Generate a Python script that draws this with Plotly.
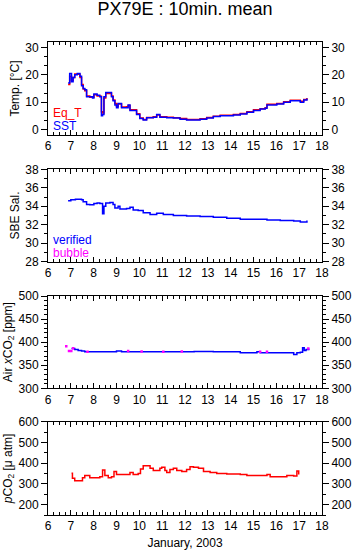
import plotly.graph_objects as go

# ---------------- data ----------------
temp_days = [6.88, 6.95, 7.03, 7.10, 7.17, 7.28, 7.40, 7.47, 7.54, 7.61, 7.69, 7.83, 7.95,
             8.01, 8.15, 8.27, 8.34, 8.39, 8.45, 8.53, 8.71, 8.78, 8.85, 8.93, 9.00, 9.07,
             9.22, 9.44, 9.51, 9.59, 9.80, 9.88, 10.02, 10.17, 10.32, 10.61, 10.76, 10.90,
             11.20, 11.49, 11.78, 12.07, 12.66, 12.95, 13.24, 13.54, 14.12, 14.42, 14.71,
             15.00, 15.29, 15.51, 15.59, 16.02, 16.32, 16.61, 17.05, 17.20, 17.34]
sst = [17.0, 20.5, 17.5, 19.0, 20.0, 20.5, 19.5, 16.0, 15.0, 14.5, 12.0, 12.0, 11.5,
       13.0, 12.5, 12.0, 5.0, 5.5, 12.0, 13.5, 13.5, 12.0, 10.5, 9.0, 8.0, 9.5,
       8.0, 8.0, 9.0, 7.0, 7.0, 5.5, 4.0, 3.5, 4.3, 4.5, 5.5, 4.5,
       4.3, 4.2, 3.8, 3.5, 3.8, 4.2, 4.8, 5.0, 5.3, 5.7, 6.3,
       7.0, 7.5, 7.8, 9.0, 9.3, 10.0, 10.5, 10.0, 10.8, 11.3]
eq_t = [16.5, 19.5, 18.0, 19.0, 20.3, 20.2, 19.0, 16.5, 14.8, 14.2, 12.3, 11.8, 11.8,
        12.7, 12.3, 12.2, 6.5, 6.0, 11.5, 13.2, 13.3, 12.3, 10.8, 9.5, 8.5, 9.3,
        8.2, 8.3, 8.8, 7.2, 7.2, 5.8, 4.2, 3.7, 4.4, 4.7, 5.3, 4.7,
        4.5, 4.3, 4.0, 3.7, 3.9, 4.4, 4.9, 5.2, 5.5, 5.9, 6.5,
        7.2, 7.6, 8.0, 9.2, 9.5, 10.2, 10.7, 10.3, 11.0, 11.5]

sal_days = [6.88, 7.00, 7.20, 7.47, 7.54, 7.69, 7.83, 8.01, 8.15, 8.27, 8.39, 8.45,
            8.53, 8.71, 8.85, 8.93, 9.07, 9.15, 9.44, 9.59, 9.73, 9.95, 10.17, 10.47,
            10.76, 11.05, 11.49, 12.07, 12.66, 13.24, 13.83, 14.42, 15.00, 15.59, 16.17,
            16.76, 17.05, 17.20, 17.34]
sal_verified = [34.6, 34.7, 34.75, 34.7, 34.5, 34.2, 34.15, 34.3, 34.35, 34.3, 33.2, 34.0,
                34.35, 34.4, 34.2, 33.8, 34.0, 33.7, 33.75, 33.9, 33.6, 33.55, 33.3, 33.1,
                33.25, 33.1, 33.0, 32.95, 32.9, 32.8, 32.7, 32.6, 32.6, 32.5, 32.45,
                32.4, 32.3, 32.3, 32.45]

air_days = [7.03, 7.17, 7.32, 7.47, 7.61, 7.83, 8.27, 8.85, 9.00, 9.22, 9.59, 10.17,
            11.20, 12.07, 12.40, 13.24, 14.12, 14.42, 15.00, 15.15, 15.29, 15.59, 16.02,
            16.61, 16.76, 16.90, 17.05, 17.15, 17.22, 17.30, 17.42]
air_verified = [386, 384, 382, 381, 379, 379, 379, 379, 381, 379, 379, 379,
                379, 379, 380, 379, 379, 377, 377, 379, 377, 377, 377,
                377, 373, 377, 378, 388, 382, 384, 386]
bubble_days = [6.80, 6.92, 7.02, 7.10, 7.73, 9.51, 10.10, 11.05, 11.86, 15.29, 15.59, 17.40]
air_bubble = [391, 381, 381, 387, 379, 381, 380, 379, 380, 379, 379, 386]

pco2_days = [7.03, 7.07, 7.17, 7.40, 7.51, 7.61, 7.83, 8.05, 8.27, 8.39, 8.49, 8.64,
             8.78, 8.89, 9.00, 9.15, 9.44, 9.59, 9.73, 9.95, 10.05, 10.17, 10.32, 10.47,
             10.61, 10.83, 10.90, 10.98, 11.12, 11.20, 11.34, 11.49, 11.64, 11.86, 12.07,
             12.22, 12.37, 12.59, 12.81, 13.10, 13.39, 13.83, 14.42, 14.71, 15.29, 15.59,
             15.73, 16.46, 16.76, 16.90, 16.98]
pco2 = [351, 327, 315, 315, 330, 340, 330, 330, 335, 367, 340, 330,
        335, 360, 345, 345, 345, 355, 345, 350, 372, 388, 388, 375,
        365, 365, 375, 380, 365, 355, 370, 375, 365, 360, 370,
        383, 380, 375, 360, 355, 350, 348, 345, 340, 340, 345,
        335, 340, 338, 362, 345]

x_ticks = list(range(6, 19))

FONT = "Liberation Sans, Arial, Helvetica, sans-serif"
RED, BLUE, MAG = "#ff0000", "#0000ff", "#ff00ff"
LW = 1.5

fig = go.Figure()

def xa(p):
    return "x" if p == 1 else f"x{p}"

def ya(p):
    return "y" if p == 1 else f"y{p}"

# temperature (top panel = index 4)
fig.add_trace(go.Scatter(x=temp_days, y=eq_t, mode="lines", line=dict(color=RED, width=LW, shape="hv"),
                         xaxis=xa(4), yaxis=ya(4), showlegend=False))
fig.add_trace(go.Scatter(x=temp_days, y=sst, mode="lines", line=dict(color=BLUE, width=LW, shape="hv"),
                         xaxis=xa(4), yaxis=ya(4), showlegend=False))
# salinity
fig.add_trace(go.Scatter(x=sal_days, y=sal_verified, mode="lines", line=dict(color=BLUE, width=LW, shape="hv"),
                         xaxis=xa(3), yaxis=ya(3), showlegend=False))
# air xCO2
fig.add_trace(go.Scatter(x=air_days, y=air_verified, mode="lines", line=dict(color=BLUE, width=LW, shape="hv"),
                         xaxis=xa(2), yaxis=ya(2), showlegend=False))
fig.add_trace(go.Scatter(x=bubble_days, y=air_bubble, mode="markers",
                         marker=dict(color=MAG, size=2.5, symbol="square"),
                         xaxis=xa(2), yaxis=ya(2), showlegend=False))
# pCO2
fig.add_trace(go.Scatter(x=pco2_days, y=pco2, mode="lines", line=dict(color=RED, width=LW, shape="hv"),
                         xaxis=xa(1), yaxis=ya(1), showlegend=False))

H = 473.0
def dom(top_px, bot_px):
    return [(515 - bot_px) / H, (515 - top_px) / H]

panels = {
    4: dict(domain=dom(42, 135), range=[-2, 32], dtick=10, minor=10/3, title="Temp. [°C]"),
    3: dict(domain=dom(169.3, 261.7), range=[28, 38], dtick=2, minor=1, title="SBE Sal."),
    2: dict(domain=dom(296, 388.3), range=[300, 500], dtick=50, minor=10,
            title="Air <i>x</i>CO<sub>2</sub> [ppm]"),
    1: dict(domain=dom(421.7, 515), range=[150, 600], dtick=100, minor=50,
            title="<i>p</i>CO<sub>2</sub> [μ atm]"),
}

tickfont = dict(family=FONT, size=12, color="black")
layout = {}
for p, cfg in panels.items():
    xname = "xaxis" if p == 1 else f"xaxis{p}"
    yname = "yaxis" if p == 1 else f"yaxis{p}"
    rname = f"yaxis{p + 4}"
    layout[xname] = dict(domain=[0, 1], anchor=ya(p), range=[6, 18], tickvals=x_ticks,
                         ticks="inside", ticklen=5, tickwidth=1, tickcolor="black",
                         minor=dict(dtick=0.25, tick0=6, ticks="inside", ticklen=3, tickcolor="black"),
                         showline=True, linecolor="black", linewidth=1, mirror="ticks",
                         showgrid=False, zeroline=False, tickfont=tickfont, automargin=False)
    layout[yname] = dict(domain=cfg["domain"], anchor=xa(p), range=cfg["range"], tick0=0,
                         dtick=cfg["dtick"], ticks="outside", ticklen=6, tickcolor="black",
                         minor=dict(dtick=cfg["minor"], tick0=0, ticks="outside", ticklen=3,
                                    tickcolor="black"),
                         showline=True, linecolor="black", linewidth=1, showgrid=False,
                         zeroline=False, tickfont=tickfont, automargin=False,
                         title=dict(text=cfg["title"], font=dict(family=FONT, size=12, color="black"),
                                    standoff=3))
    layout[rname] = dict(overlaying=ya(p), side="right", anchor=xa(p), range=cfg["range"], tick0=0,
                         dtick=cfg["dtick"], ticks="outside", ticklen=6, tickcolor="black",
                         minor=dict(dtick=cfg["minor"], tick0=0, ticks="outside", ticklen=3,
                                    tickcolor="black"),
                         showline=True, linecolor="black", linewidth=1, showgrid=False,
                         zeroline=False, tickfont=tickfont, automargin=False)
    fig.add_trace(go.Scatter(x=[None], y=[None], xaxis=xa(p), yaxis=f"y{p + 4}", showlegend=False,
                             hoverinfo="skip"))

layout["xaxis"]["title"] = dict(text="January, 2003", font=dict(family=FONT, size=12, color="black"),
                                standoff=6)

fig.update_layout(**layout)

legend_font = lambda c: dict(family=FONT, size=12, color=c)
fig.add_annotation(text="Eq_T", xref="x4 domain", yref="y4 domain", x=0.01, y=0.237,
                   xanchor="left", yanchor="middle", showarrow=False, font=legend_font(RED))
fig.add_annotation(text="SST", xref="x4 domain", yref="y4 domain", x=0.01, y=0.097,
                   xanchor="left", yanchor="middle", showarrow=False, font=legend_font(BLUE))
fig.add_annotation(text="verified", xref="x3 domain", yref="y3 domain", x=0.01, y=0.235,
                   xanchor="left", yanchor="middle", showarrow=False, font=legend_font(BLUE))
fig.add_annotation(text="bubble", xref="x3 domain", yref="y3 domain", x=0.01, y=0.091,
                   xanchor="left", yanchor="middle", showarrow=False, font=legend_font(MAG))

fig.update_layout(
    width=355, height=558,
    margin=dict(l=48, r=33, t=42, b=43, pad=0),
    paper_bgcolor="white", plot_bgcolor="white",
    font=dict(family=FONT, size=12, color="black"),
    title=dict(text="PX79E : 10min. mean", x=0.5, xref="paper", y=1 - 9 / 558, yref="container",
               xanchor="center", yanchor="middle", font=dict(family=FONT, size=18, color="black")),
    showlegend=False,
)

fig.write_html("out.html", config={"displayModeBar": False},
               post_script="document.body.style.margin='0px';document.body.style.overflow='hidden';")
